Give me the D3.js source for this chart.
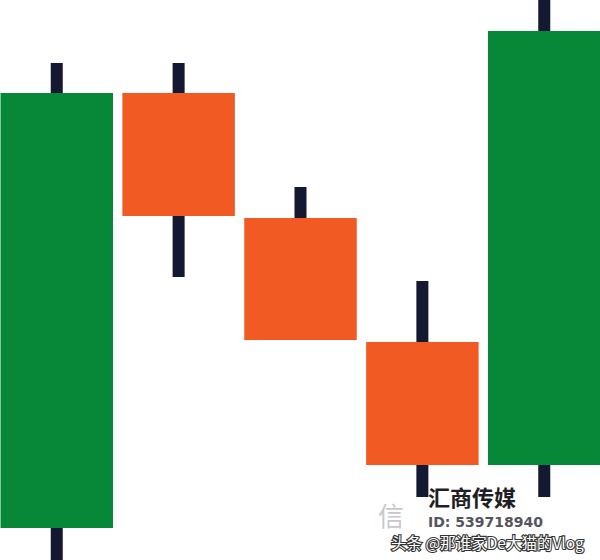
<!DOCTYPE html>
<html>
<head>
<meta charset="utf-8">
<script src="https://cdn.jsdelivr.net/npm/d3@7"></script>
<style>
  html, body { margin: 0; padding: 0; background: #ffffff; }
  svg { display: block; }
</style>
</head>
<body>
<svg id="chart" width="600" height="560"></svg>
<script>
// Data (arbitrary price units)
const days   = ["D1", "D2", "D3", "D4", "D5"];
const opens  = [32, 467, 342, 218, 95];
const closes = [467, 344, 220, 95, 529];
const highs  = [497, 497, 373, 279, 600];
const lows   = [-40, 283, 220, 63, 63];

const W = 600, H = 560;
const svg = d3.select("#chart");

const x = d3.scaleBand().domain(days).range([0.5, 600.5]).paddingInner(0.077).paddingOuter(0);
const y = d3.scaleLinear().domain([0, 560]).range([560, 0]);

const data = days.map((d, i) => ({ d, o: opens[i], c: closes[i], h: highs[i], l: lows[i] }));

const g = svg.append("g");
const wickW = 12;

// wicks
g.selectAll("rect.wick").data(data).enter().append("rect")
  .attr("class", "wick")
  .attr("x", d => x(d.d) + x.bandwidth() / 2 - wickW / 2)
  .attr("y", d => y(d.h))
  .attr("width", wickW)
  .attr("height", d => y(d.l) - y(d.h))
  .attr("fill", "#141831");

// bodies
g.selectAll("rect.body").data(data).enter().append("rect")
  .attr("class", "body")
  .attr("x", d => x(d.d))
  .attr("y", d => y(Math.max(d.o, d.c)))
  .attr("width", x.bandwidth())
  .attr("height", d => Math.abs(y(d.o) - y(d.c)))
  .attr("fill", d => d.c >= d.o ? "#078838" : "#F15A22");

// watermarks
svg.append("text").attr("x", 378).attr("y", 526)
  .attr("font-family", "Noto Sans CJK SC").attr("font-size", 26)
  .attr("fill", "#c8c8cc").text("信");
svg.append("text").attr("x", 428).attr("y", 506)
  .attr("font-family", "Noto Sans CJK SC").attr("font-weight", "bold").attr("font-size", 22)
  .attr("fill", "#1e1e24").text("汇商传媒");
svg.append("text").attr("x", 428).attr("y", 527)
  .attr("font-family", "DejaVu Sans").attr("font-weight", "bold").attr("font-size", 14)
  .attr("fill", "#2a2a34").attr("opacity", 0.8).text("ID: 539718940");
svg.append("text").attr("x", 391).attr("y", 549)
  .attr("font-family", "Noto Sans CJK SC").attr("font-size", 15.5)
  .attr("fill", "#ffffff").attr("stroke", "#333333").attr("stroke-width", 2.2)
  .attr("paint-order", "stroke").text("头条 @那谁家De大猫的Vlog");
</script>
</body>
</html>
